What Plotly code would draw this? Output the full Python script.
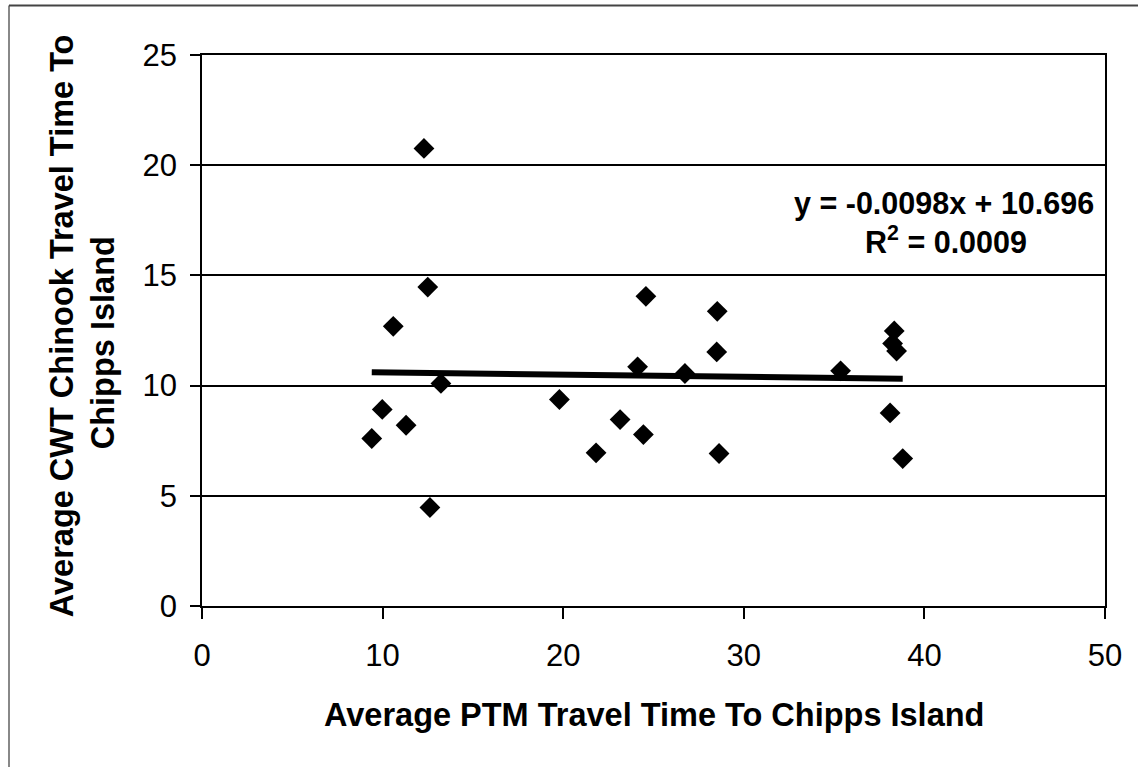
import plotly.graph_objects as go

# Average PTM travel time (x) vs. average CWT Chinook travel time (y), days
ptm_days = [12.29, 12.50, 10.59, 13.23, 9.98, 11.30, 9.40, 12.62,
            24.58, 28.53, 38.33, 38.24, 38.46, 28.50, 24.12, 26.74,
            35.36, 19.79, 23.15, 38.10, 24.44, 21.82, 28.63, 38.80]
cwt_days = [20.76, 14.47, 12.69, 10.10, 8.92, 8.20, 7.60, 4.47,
            14.05, 13.37, 12.48, 11.91, 11.57, 11.53, 10.85, 10.55,
            10.67, 9.37, 8.46, 8.76, 7.78, 6.95, 6.92, 6.69]

# Linear trendline as reported on the chart
slope = -0.0098
intercept = 10.696
r_squared = 0.0009

x_ticks = [0, 10, 20, 30, 40, 50]
y_ticks = [0, 5, 10, 15, 20, 25]

W, H = 1138, 767
L, R, T, B = 202, 1105, 54.5, 606  # plot-area edges in pixels


def px(xp):
    return (xp - L) / (R - L)


def py(yp):
    return (B - yp) / (B - T)


FONT = "Liberation Sans, Arial, sans-serif"

fig = go.Figure()

trend_x = [min(ptm_days), max(ptm_days)]
trend_y = [slope * v + intercept for v in trend_x]
fig.add_trace(go.Scatter(
    x=trend_x, y=trend_y, mode="lines",
    line=dict(color="black", width=6), hoverinfo="skip", showlegend=False,
))

fig.add_trace(go.Scatter(
    x=ptm_days, y=cwt_days, mode="markers",
    marker=dict(symbol="diamond", size=16, color="black"),
    showlegend=False,
))

fig.update_layout(
    width=W, height=H,
    margin=dict(l=L, r=W - R, t=T, b=H - B, pad=0),
    paper_bgcolor="white", plot_bgcolor="white",
    font=dict(family=FONT, color="black"),
    xaxis=dict(
        range=[0, 50], tickvals=x_ticks, ticks="outside", ticklen=11,
        tickwidth=1.5, tickcolor="black", showgrid=False, zeroline=False,
        showline=True, linecolor="black", linewidth=1.5, mirror=True,
        tickfont=dict(size=31, family=FONT), ticklabelstandoff=10,
    ),
    yaxis=dict(
        range=[0, 25], tickvals=y_ticks, ticks="outside", ticklen=10,
        tickwidth=1.5, tickcolor="black", showgrid=True, gridcolor="black",
        gridwidth=1.5, zeroline=False, showline=True, linecolor="black",
        linewidth=1.5, mirror=True,
        tickfont=dict(size=31, family=FONT), ticklabelstandoff=7,
    ),
)

annotations = [
    dict(text="<b>Average PTM Travel Time To Chipps Island</b>",
         x=px(653.5), y=py(715), size=32.5),
    dict(text="<b>Average CWT Chinook Travel Time To</b>",
         x=px(62), y=py(326), textangle=-90, size=32.5),
    dict(text="<b>Chipps Island</b>",
         x=px(103), y=py(343), textangle=-90, size=32.5),
    dict(text=f"<b>y = {slope:.4f}x + {intercept:.3f}</b>",
         x=px(944), y=py(203), size=30.5),
    dict(text=f"<b>R<sup>2</sup> = {r_squared:.4f}</b>",
         x=px(946), y=py(240), size=30.5),
]
for a in annotations:
    size = a.pop("size")
    fig.add_annotation(xref="paper", yref="paper", showarrow=False,
                       xanchor="center", yanchor="middle",
                       font=dict(family=FONT, color="black", size=size), **a)

# Outer chart frame (left and top edges)
fig.add_shape(type="line", xref="paper", yref="paper",
              x0=px(9), x1=px(9), y0=py(5), y1=py(H + 2),
              line=dict(color="#888888", width=2))
fig.add_shape(type="line", xref="paper", yref="paper",
              x0=px(9), x1=px(W + 2), y0=py(5), y1=py(5),
              line=dict(color="#444444", width=2))

fig.write_html("out.html")
